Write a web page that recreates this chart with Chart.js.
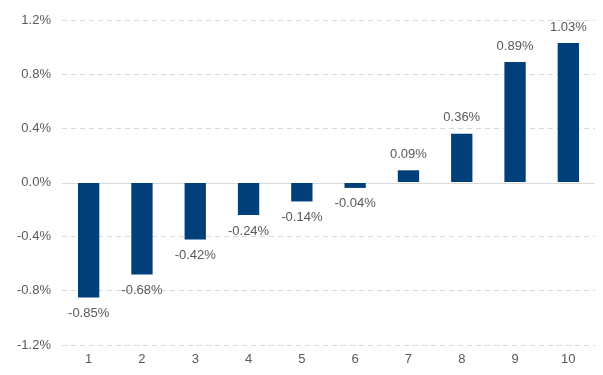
<!DOCTYPE html>
<html>
<head>
<meta charset="utf-8">
<script src="https://cdn.jsdelivr.net/npm/chart.js@4"></script>
<style>
  html, body { margin: 0; padding: 0; background: #fff; }
  #wrap { width: 603px; height: 375px; }
</style>
</head>
<body>
<div id="wrap"><canvas id="c" width="603" height="375"></canvas></div>
<script>
const categories = ['1', '2', '3', '4', '5', '6', '7', '8', '9', '10'];
const values = [-0.85, -0.68, -0.42, -0.24, -0.14, -0.04, 0.09, 0.36, 0.89, 1.03];
const yTicks = [-1.2, -0.8, -0.4, 0.0, 0.4, 0.8, 1.2];

const ink = '#595959';
const navy = '#003f7a';
const rule = '#d9d9d9';
const font = { family: '"Liberation Sans", Arial, sans-serif', size: 13 };

// solid zero line + value labels
const extras = {
  id: 'extras',
  beforeDatasetsDraw(chart) {
    const { ctx, chartArea, scales } = chart;
    const y0 = Math.round(scales.y.getPixelForValue(0)) + 0.5;
    ctx.save();
    ctx.strokeStyle = rule;
    ctx.lineWidth = 1;
    ctx.beginPath();
    ctx.moveTo(chartArea.left, y0);
    ctx.lineTo(chartArea.right, y0);
    ctx.stroke();
    ctx.restore();
  },
  afterDatasetsDraw(chart) {
    const { ctx } = chart;
    const meta = chart.getDatasetMeta(0);
    ctx.save();
    ctx.fillStyle = ink;
    ctx.font = `${font.size}px ${font.family}`;
    ctx.textAlign = 'center';
    ctx.textBaseline = 'middle';
    meta.data.forEach((bar, i) => {
      const v = values[i];
      const y = v >= 0 ? bar.y - 16 : bar.y + 16;
      ctx.fillText(v.toFixed(2) + '%', bar.x, y);
    });
    ctx.restore();
  }
};

new Chart(document.getElementById('c'), {
  type: 'bar',
  data: {
    labels: categories,
    datasets: [{
      data: values,
      backgroundColor: navy,
      borderWidth: 0,
      barPercentage: 0.4,
      categoryPercentage: 1.0
    }]
  },
  options: {
    responsive: false,
    animation: false,
    layout: { padding: { top: 20, right: 8, left: 0, bottom: 0 } },
    plugins: { legend: { display: false }, tooltip: { enabled: false } },
    scales: {
      x: {
        grid: { display: false, drawTicks: false },
        border: { display: false },
        ticks: { color: ink, font, padding: 7, maxRotation: 0 },
        afterFit: (s) => { s.height = 30; }
      },
      y: {
        min: -1.2,
        max: 1.2,
        afterBuildTicks: (s) => { s.ticks = yTicks.map((v) => ({ value: v })); },
        grid: {
          color: (c) => (c.tick && Math.abs(c.tick.value) < 1e-9 ? 'rgba(0,0,0,0)' : rule),
          drawTicks: false
        },
        border: { display: false, dash: [5, 4] },
        ticks: {
          color: ink,
          font,
          padding: 11,
          callback: (v) => v.toFixed(1) + '%'
        },
        afterFit: (s) => { s.width = 62; }
      }
    }
  },
  plugins: [extras]
});
</script>
</body>
</html>
